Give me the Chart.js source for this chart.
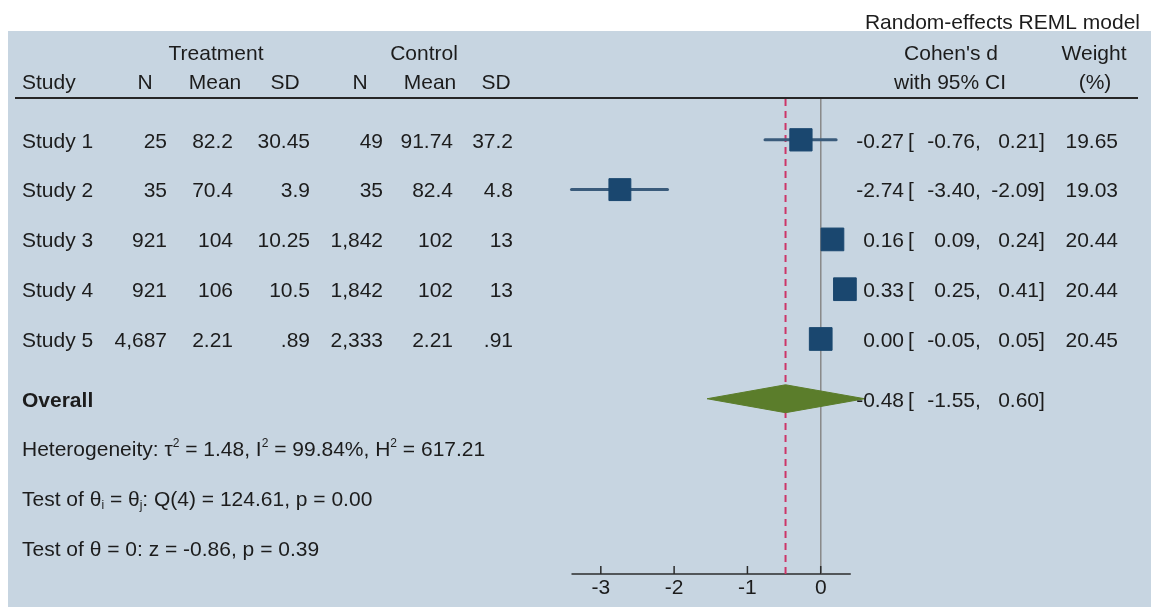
<!DOCTYPE html>
<html>
<head>
<meta charset="utf-8">
<title>Forest plot</title>
<script src="https://cdn.jsdelivr.net/npm/chart.js@4.4.0/dist/chart.umd.min.js"></script>
<style>
  html, body { margin: 0; padding: 0; background: #fff; }
  #forest { display: block; }
</style>
</head>
<body>
<canvas id="forest" width="1151" height="607"></canvas>
<script>
// forest plot

const studies = ['Study 1', 'Study 2', 'Study 3', 'Study 4', 'Study 5'];
const treatN = [25, 35, 921, 921, 4687];
const treatMean = [82.2, 70.4, 104, 106, 2.21];
const treatSD = [30.45, 3.9, 10.25, 10.5, 0.89];
const ctrlN = [49, 35, 1842, 1842, 2333];
const ctrlMean = [91.74, 82.4, 102, 102, 2.21];
const ctrlSD = [37.2, 4.8, 13, 13, 0.91];

const effect = [-0.27, -2.74, 0.16, 0.33, 0.00];
const ciLow = [-0.76, -3.40, 0.09, 0.25, -0.05];
const ciHigh = [0.21, -2.09, 0.24, 0.41, 0.05];
const weight = [19.65, 19.03, 20.44, 20.44, 20.45];

const overall = [-0.48, -1.55, 0.60]; // estimativa, inferior, superior
const tau2 = 1.48, i2 = 99.84, h2 = 617.21;
const qDf = 4, qStat = 124.61, qP = 0.00;
const zStat = -0.86, zP = 0.39;

const xTicks = [-3, -2, -1, 0];

// layout (linhas no eixo y)
const studyRows = [1, 2, 3, 4, 5];
const overallRow = 6.2;
const footRows = [7.2, 8.2, 9.2];
const yMin = 0.18, yMax = 9.72;

const FONT = '"Liberation Sans", Arial, Helvetica, sans-serif';
const FS = 21;
const INK = '#1c1c1c';
const PANEL = '#c7d5e1';
const NAVY = '#1a476f';
const TXT_DY = 2; // ajuste vertical do texto

function fmtInt(n) { return n.toLocaleString('en-US'); }
function fmtNum(n) {
    const s = String(n);
    return s.startsWith('0.') ? s.slice(1) : s;
}

function txt(c, s, x, y, align = 'left', bold = false) {
    c.font = (bold ? 'bold ' : '') + FS + 'px ' + FONT;
    c.textAlign = align;
    c.textBaseline = 'middle';
    c.fillText(s, x, y + TXT_DY);
}

// texto com sobrescrito / subscrito
function rich(c, parts, x, y) {
    let cx = x;
    c.textAlign = 'left';
    c.textBaseline = 'middle';
    parts.forEach(([s, mode]) => {
        const size = mode ? 12 : FS;
        const dy = mode === 'sup' ? -7 : mode === 'sub' ? 5 : 0;
        c.font = size + 'px ' + FONT;
        c.fillText(s, cx, y + dy + TXT_DY);
        cx += c.measureText(s).width;
    });
}

function ciText(c, est, lo, hi, y) {
    txt(c, est.toFixed(2), 904, y, 'right');
    txt(c, '[', 908, y);
    txt(c, lo.toFixed(2), 975, y, 'right');
    txt(c, ',', 975, y);
    txt(c, hi.toFixed(2), 1039, y, 'right');
    txt(c, ']', 1039, y);
}

const tablePlugin = {
    id: 'tabela',
    beforeDraw(chart) {
        const c = chart.ctx;
        c.save();
        c.fillStyle = '#ffffff';
        c.fillRect(0, 0, chart.width, chart.height);
        c.fillStyle = PANEL;
        c.fillRect(8, 31, chart.width - 8, chart.height - 31);
        c.restore();
    },
    afterDatasetsDraw(chart) {
        // marcas dos ticks, para cima do eixo
        const c = chart.ctx;
        const xs = chart.scales.x;
        const bottom = chart.scales.y.getPixelForValue(yMax);
        c.save();
        c.strokeStyle = '#2b2b2b';
        c.lineWidth = 1.5;
        c.beginPath();
        xTicks.forEach(t => {
            const px = xs.getPixelForValue(t);
            c.moveTo(px, bottom - 8);
            c.lineTo(px, bottom);
        });
        c.stroke();
        c.restore();
    },
    afterDraw(chart) {
        const c = chart.ctx;
        const ys = chart.scales.y;
        c.save();
        c.fillStyle = INK;

        txt(c, 'Random-effects REML model', 1140, 21, 'right');

        txt(c, 'Treatment', 216, 52, 'center');
        txt(c, 'Control', 424, 52, 'center');
        txt(c, "Cohen's d", 951, 52, 'center');
        txt(c, 'Weight', 1094, 52, 'center');

        txt(c, 'Study', 22, 81);
        txt(c, 'N', 145, 81, 'center');
        txt(c, 'Mean', 215, 81, 'center');
        txt(c, 'SD', 285, 81, 'center');
        txt(c, 'N', 360, 81, 'center');
        txt(c, 'Mean', 430, 81, 'center');
        txt(c, 'SD', 496, 81, 'center');
        txt(c, 'with 95% CI', 950, 81, 'center');
        txt(c, '(%)', 1095, 81, 'center');

        c.strokeStyle = '#262626';
        c.lineWidth = 2;
        c.beginPath();
        c.moveTo(15, 98);
        c.lineTo(1138, 98);
        c.stroke();

        studies.forEach((s, i) => {
            const y = ys.getPixelForValue(studyRows[i]);
            txt(c, s, 22, y);
            txt(c, fmtInt(treatN[i]), 167, y, 'right');
            txt(c, fmtNum(treatMean[i]), 233, y, 'right');
            txt(c, fmtNum(treatSD[i]), 310, y, 'right');
            txt(c, fmtInt(ctrlN[i]), 383, y, 'right');
            txt(c, fmtNum(ctrlMean[i]), 453, y, 'right');
            txt(c, fmtNum(ctrlSD[i]), 513, y, 'right');
            ciText(c, effect[i], ciLow[i], ciHigh[i], y);
            txt(c, weight[i].toFixed(2), 1118, y, 'right');
        });

        const yo = ys.getPixelForValue(overallRow);
        txt(c, 'Overall', 22, yo, 'left', true);
        ciText(c, overall[0], overall[1], overall[2], yo);

        rich(c, [
            ['Heterogeneity: \u03c4', ''], ['2', 'sup'],
            [' = ' + tau2.toFixed(2) + ', I', ''], ['2', 'sup'],
            [' = ' + i2.toFixed(2) + '%, H', ''], ['2', 'sup'],
            [' = ' + h2.toFixed(2), '']
        ], 22, ys.getPixelForValue(footRows[0]));
        rich(c, [
            ['Test of \u03b8', ''], ['i', 'sub'], [' = \u03b8', ''], ['j', 'sub'],
            [': Q(' + qDf + ') = ' + qStat.toFixed(2) + ', p = ' + qP.toFixed(2), '']
        ], 22, ys.getPixelForValue(footRows[1]));
        rich(c, [
            ['Test of \u03b8 = 0: z = ' + zStat.toFixed(2) + ', p = ' + zP.toFixed(2), '']
        ], 22, ys.getPixelForValue(footRows[2]));

        c.restore();
    }
};

const xMin = Math.min(...ciLow, overall[1]);
const xMax = Math.max(...ciHigh, overall[2]);

const datasets = [];

// quadrados (tamanho pelo peso)
datasets.push({
    type: 'scatter',
    data: effect.map((e, i) => ({ x: e, y: studyRows[i] })),
    pointStyle: 'rect',
    pointRadius: weight.map(w => 3.55 * Math.sqrt(w)),
    backgroundColor: NAVY,
    borderColor: NAVY,
    borderWidth: 1,
    clip: false,
    order: 0
});

// diamante do efeito geral
const dH = 0.28;
datasets.push({
    type: 'line',
    data: [
        { x: overall[1], y: overallRow },
        { x: overall[0], y: overallRow - dH },
        { x: overall[2], y: overallRow },
        { x: overall[0], y: overallRow + dH },
        { x: overall[1], y: overallRow }
    ],
    borderColor: '#5b7d2b',
    backgroundColor: '#5b7d2b',
    borderWidth: 1,
    fill: 'shape',
    pointRadius: 0,
    tension: 0,
    clip: false,
    order: 1
});

// intervalos de confiança
studies.forEach((s, i) => {
    datasets.push({
        type: 'line',
        data: [{ x: ciLow[i], y: studyRows[i] }, { x: ciHigh[i], y: studyRows[i] }],
        borderColor: '#3a5b7b',
        borderWidth: 3,
        borderCapStyle: 'round',
        pointRadius: 0,
        clip: false,
        order: 2
    });
});

// linha do zero e linha do efeito geral
datasets.push({
    type: 'line',
    data: [{ x: 0, y: yMin }, { x: 0, y: yMax }],
    borderColor: '#8a8a8a',
    borderWidth: 1,
    pointRadius: 0,
    order: 3
});
datasets.push({
    type: 'line',
    data: [{ x: overall[0], y: yMin }, { x: overall[0], y: yMax }],
    borderColor: '#cc3668',
    borderWidth: 2,
    borderDash: [7, 5],
    pointRadius: 0,
    order: 3
});

// eixo x só no intervalo dos estudos
datasets.push({
    type: 'line',
    data: [{ x: Math.min(...ciLow), y: yMax }, { x: Math.max(...ciHigh), y: yMax }],
    borderColor: '#2b2b2b',
    borderWidth: 1.5,
    pointRadius: 0,
    clip: false,
    order: 4
});

const ctx = document.getElementById('forest').getContext('2d');
const chart = new Chart(ctx, {
    type: 'scatter',
    data: { datasets },
    options: {
        responsive: false,
        animation: false,
        layout: { padding: { left: 571.5, right: 286.3, top: 99, bottom: 0 } },
        plugins: {
            legend: { display: false },
            tooltip: { enabled: false }
        },
        scales: {
            x: {
                type: 'linear',
                min: xMin,
                max: xMax,
                afterBuildTicks: s => { s.ticks = xTicks.map(v => ({ value: v })); },
                afterFit: s => { s.height = 33; },
                grid: { display: false, drawTicks: false },
                border: { display: false },
                ticks: {
                    color: INK,
                    font: { family: FONT, size: FS },
                    padding: 2,
                    maxRotation: 0,
                    autoSkip: false
                }
            },
            y: {
                type: 'linear',
                display: false,
                reverse: true,
                min: yMin,
                max: yMax
            }
        }
    },
    plugins: [tablePlugin]
});
</script>
</body>
</html>
